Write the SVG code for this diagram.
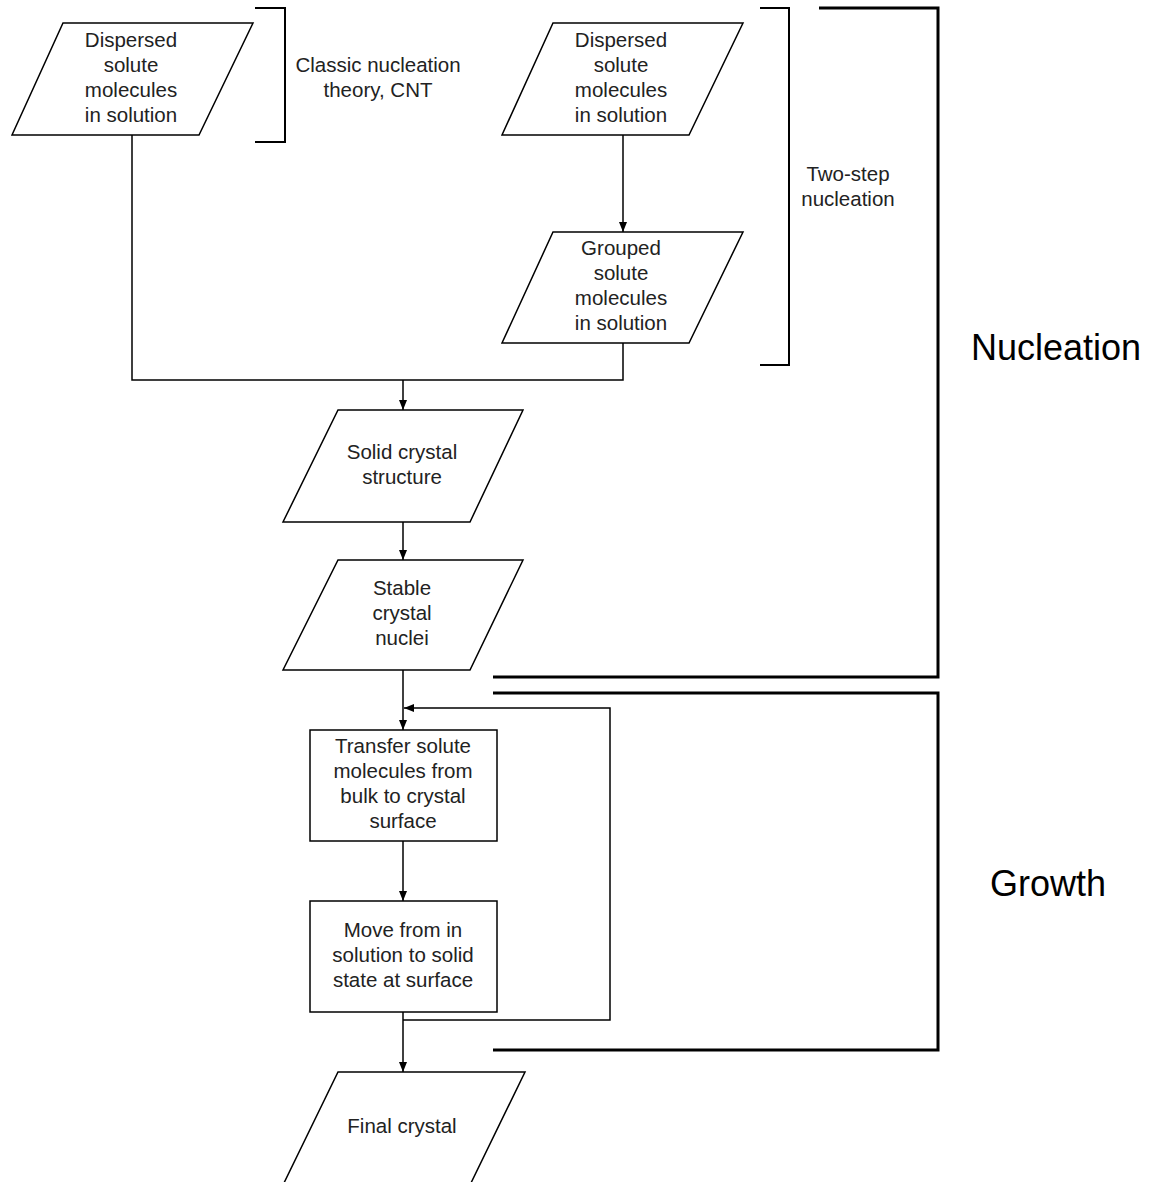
<svg xmlns="http://www.w3.org/2000/svg" width="1160" height="1182" viewBox="0 0 1160 1182">
<style>
.shape{fill:#fff;stroke:#000;stroke-width:1.5}
.t{font-family:"Liberation Sans",Arial,sans-serif;font-size:20.5px;fill:#222;text-anchor:middle}
.big{font-family:"Liberation Sans",Arial,sans-serif;font-size:36px;fill:#000;text-anchor:middle}
.c{fill:none;stroke:#000;stroke-width:1.5}
.br{fill:none;stroke:#000;stroke-width:2}
.bb{fill:none;stroke:#000;stroke-width:3}
</style>
<defs>
<marker id="ah" viewBox="0 0 10 8" refX="10" refY="4" markerWidth="10" markerHeight="8" markerUnits="userSpaceOnUse" orient="auto">
<path d="M0,0 L10,4 L0,8 z" fill="#000"/>
</marker>
</defs>
<rect width="1160" height="1182" fill="#fff"/>
<g id="connectors">
<path class="c" d="M132,135 V380 H623 V343"/>
<path class="c" d="M403,380 V410" marker-end="url(#ah)"/>
<path class="c" d="M623,135 V232" marker-end="url(#ah)"/>
<path class="c" d="M403,522 V560" marker-end="url(#ah)"/>
<path class="c" d="M403,670 V730" marker-end="url(#ah)"/>
<path class="c" d="M403,841 V901" marker-end="url(#ah)"/>
<path class="c" d="M403,1012 V1072" marker-end="url(#ah)"/>
<path class="c" d="M403,1020 H610 V708 H404" marker-end="url(#ah)"/>
</g>
<g id="node-dispersed-cnt">
<polygon class="shape" points="63,23 253,23 199,135 12,135"/>
<text class="t"><tspan x="131" y="47">Dispersed</tspan><tspan x="131" y="72">solute</tspan><tspan x="131" y="97">molecules</tspan><tspan x="131" y="122">in solution</tspan></text>
</g>
<g id="node-dispersed-two">
<polygon class="shape" points="553,23 743,23 689,135 502,135"/>
<text class="t"><tspan x="621" y="47">Dispersed</tspan><tspan x="621" y="72">solute</tspan><tspan x="621" y="97">molecules</tspan><tspan x="621" y="122">in solution</tspan></text>
</g>
<g id="node-grouped">
<polygon class="shape" points="553,232 743,232 689,343 502,343"/>
<text class="t"><tspan x="621" y="255">Grouped</tspan><tspan x="621" y="280">solute</tspan><tspan x="621" y="305">molecules</tspan><tspan x="621" y="330">in solution</tspan></text>
</g>
<g id="node-solid">
<polygon class="shape" points="338,410 523,410 470,522 283,522"/>
<text class="t"><tspan x="402" y="459">Solid crystal</tspan><tspan x="402" y="484">structure</tspan></text>
</g>
<g id="node-stable">
<polygon class="shape" points="338,560 523,560 470,670 283,670"/>
<text class="t"><tspan x="402" y="595">Stable</tspan><tspan x="402" y="620">crystal</tspan><tspan x="402" y="645">nuclei</tspan></text>
</g>
<g id="node-transfer">
<rect class="shape" x="310" y="730" width="187" height="111"/>
<text class="t"><tspan x="403" y="753">Transfer solute</tspan><tspan x="403" y="778">molecules from</tspan><tspan x="403" y="803">bulk to crystal</tspan><tspan x="403" y="828">surface</tspan></text>
</g>
<g id="node-move">
<rect class="shape" x="310" y="901" width="187" height="111"/>
<text class="t"><tspan x="403" y="937">Move from in</tspan><tspan x="403" y="962">solution to solid</tspan><tspan x="403" y="987">state at surface</tspan></text>
</g>
<g id="node-final">
<polygon class="shape" points="338,1072 525,1072 470,1185 283,1185"/>
<text class="t" x="402" y="1133">Final crystal</text>
</g>
<g id="bracket-cnt">
<path class="br" d="M255,8 H285 V142 H255"/>
<text class="t"><tspan x="378" y="72">Classic nucleation</tspan><tspan x="378" y="97">theory, CNT</tspan></text>
</g>
<g id="bracket-two-step">
<path class="br" d="M760,8 H789 V365 H760"/>
<text class="t"><tspan x="848" y="181">Two-step</tspan><tspan x="848" y="206">nucleation</tspan></text>
</g>
<g id="bracket-nucleation">
<path class="bb" d="M819,8 H938 V677 H493"/>
<text class="big" x="1056" y="360">Nucleation</text>
</g>
<g id="bracket-growth">
<path class="bb" d="M493,693 H938 V1050 H493"/>
<text class="big" x="1048" y="896">Growth</text>
</g>
</svg>
